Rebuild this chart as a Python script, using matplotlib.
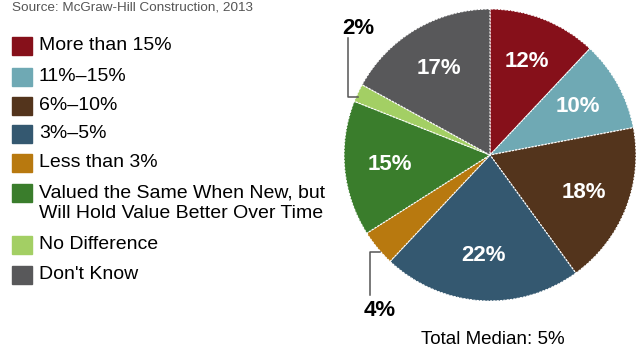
import matplotlib
matplotlib.use("Agg")
import matplotlib.pyplot as plt
from matplotlib.patches import Rectangle
import numpy as np

categories = ["More than 15%", "11%\u201315%", "6%\u201310%", "3%\u20135%",
              "Less than 3%", "Valued the Same When New, but\nWill Hold Value Better Over Time",
              "No Difference", "Don't Know"]
shares = [12, 10, 18, 22, 4, 15, 2, 17]
colors = ["#86101a", "#6fa9b4", "#53341c", "#345870",
          "#b8790f", "#3a7d2c", "#a3cf64", "#58585a"]
source = "Source: McGraw-Hill Construction, 2013"
footnote = "Total Median: 5%"

plain = ["Liberation Sans", "DejaVu Sans"]

fig = plt.figure(figsize=(6.41, 3.5), dpi=100)
ax = fig.add_axes([0, 0, 1, 1])

# pie, in pixel coordinates (y up)
cx, cy, R = 490, 195, 146
wedges, _ = ax.pie(shares, colors=colors, startangle=90, counterclock=False,
                   center=(cx, cy), radius=R, frame=True,
                   wedgeprops=dict(edgecolor="white", linewidth=0.8, linestyle=(0, (2, 1))))
ax.set_xlim(0, 641)
ax.set_ylim(0, 350)
ax.set_aspect("equal")
ax.axis("off")

for w, v in zip(wedges, shares):
    if v < 5:
        continue
    ang = np.deg2rad((w.theta1 + w.theta2) / 2)
    r = 0.69 * R
    ax.text(cx + r * np.cos(ang), cy + r * np.sin(ang), f"{v}%", color="white",
            fontsize=16, fontweight="bold", family=plain, ha="center", va="center")

# small slices get outside labels with leader lines
ax.text(358, 322, "2%", fontsize=16, fontweight="bold", family=plain,
        ha="center", va="center", color="black")
ax.plot([348, 348, 358], [312, 253, 253], color="#555555", lw=1.1)
ax.text(380, 40, "4%", fontsize=16, fontweight="bold", family=plain,
        ha="center", va="center", color="black")
ax.plot([370, 370, 380], [55, 98, 98], color="#555555", lw=1.1)

ax.text(493, 10, footnote, fontsize=13.5, family=plain, ha="center", va="center")

# legend
ax.text(12, 343, source, fontsize=9.7, color="#555555", family=plain,
        ha="left", va="center")
ys = [304, 273, 244, 216, 187, 157, 105, 75]
for y, c, lab in zip(ys, colors, categories):
    ax.add_patch(Rectangle((12, y - 9), 20, 18, color=c))
    ax.text(39, y + 9, lab, fontsize=14, family=plain, ha="left", va="top",
            linespacing=1.3)

fig.savefig("out.png", dpi=100)
